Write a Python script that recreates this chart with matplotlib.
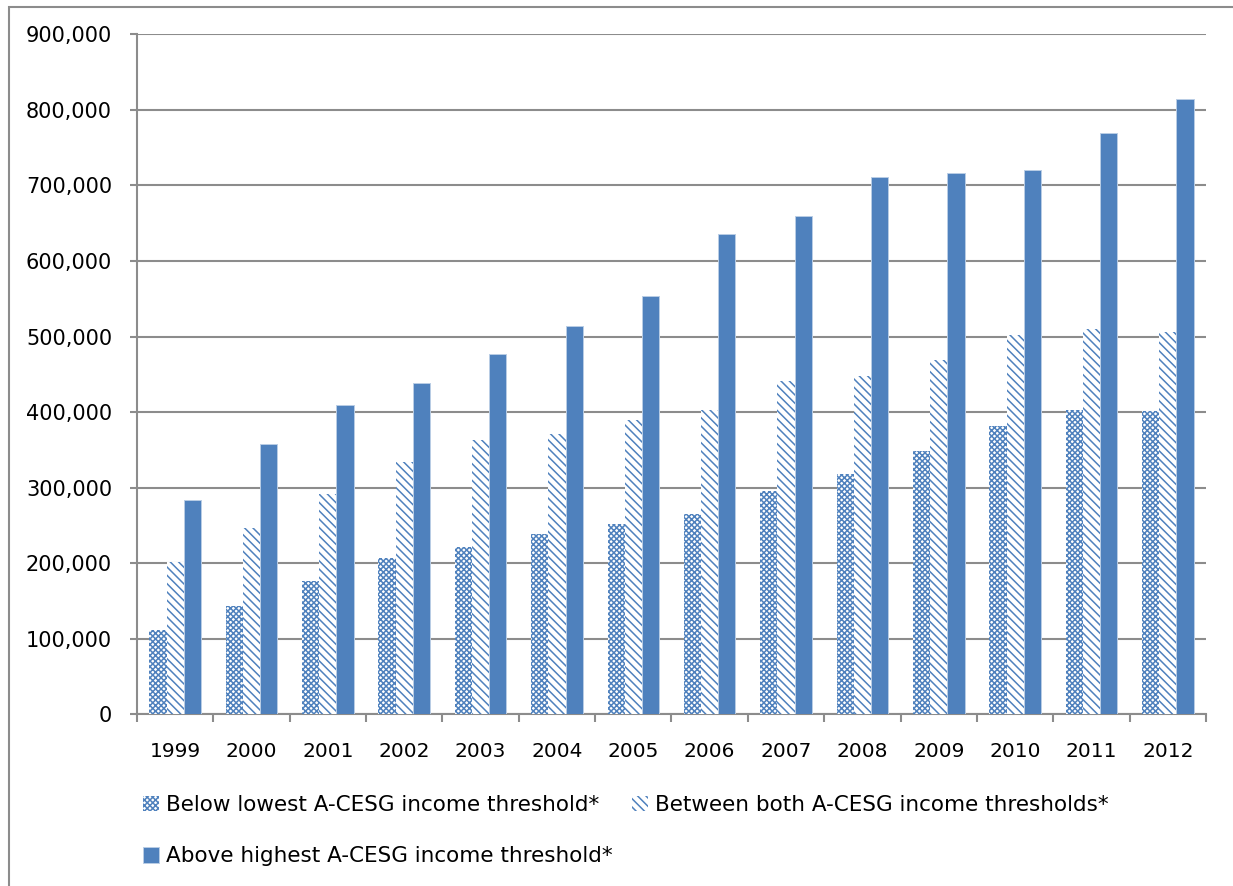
import matplotlib
matplotlib.use("Agg")
import matplotlib.pyplot as plt
import numpy as np
from matplotlib.ticker import FuncFormatter
from matplotlib.patches import Rectangle

# Households by income band (number), 1999-2012
years = ["1999", "2000", "2001", "2002", "2003", "2004", "2005",
         "2006", "2007", "2008", "2009", "2010", "2011", "2012"]
below_lowest = [112000, 144000, 176000, 207000, 221000, 238000, 252000,
                265000, 295000, 318000, 348000, 382000, 403000, 401000]
between_both = [202000, 247000, 292000, 334000, 363000, 371000, 390000,
                403000, 441000, 448000, 469000, 502000, 510000, 506000]
above_highest = [284000, 358000, 409000, 438000, 477000, 514000, 554000,
                 636000, 660000, 711000, 716000, 721000, 769000, 814000]
series_labels = ["Below lowest A-CESG income threshold*",
                 "Between both A-CESG income thresholds*",
                 "Above highest A-CESG income threshold*"]

BLUE = "#4F81BD"
GREY = "#8C8C8C"
W, H = 1233, 886

plt.rcParams["font.family"] = ["DejaVu Sans"]
plt.rcParams["hatch.linewidth"] = 1.1

fig = plt.figure(figsize=(W / 100, H / 100), dpi=100)
ax = fig.add_axes([137 / W, 1 - 714.3 / H, (1206 - 137) / W, (714.3 - 34.3) / H])

x = np.arange(len(years))
w = 0.225
b1 = ax.bar(x - w, below_lowest, w, facecolor="white", edgecolor=BLUE,
            hatch="xxxxxx", linewidth=0, label=series_labels[0], zorder=3)
b2 = ax.bar(x, between_both, w, facecolor="white", edgecolor=BLUE,
            hatch="\\\\\\\\", linewidth=0, label=series_labels[1], zorder=3)
b3 = ax.bar(x + w, above_highest, w, facecolor=BLUE, edgecolor="#B9CDE5",
            linewidth=0.7, label=series_labels[2], zorder=3)

ax.set_xlim(-0.5, len(years) - 0.5)
ax.set_ylim(0, 900000)
ax.set_yticks(np.arange(0, 900001, 100000))
ax.yaxis.set_major_formatter(FuncFormatter(lambda v, p: f"{int(v):,}"))
ax.grid(axis="y", color=GREY, linewidth=1.5, zorder=0)
ax.set_axisbelow(True)

for s in ("top", "right"):
    ax.spines[s].set_visible(False)
for s in ("left", "bottom"):
    ax.spines[s].set_color(GREY)
    ax.spines[s].set_linewidth(1.5)

ax.set_xticks(x)
ax.set_xticklabels(years)
ax.set_xticks(np.arange(-0.5, len(years)), minor=True)
ax.tick_params(axis="x", which="major", length=0, pad=20, labelsize=14.5)
ax.tick_params(axis="x", which="minor", length=6, width=1.5, color=GREY)
ax.tick_params(axis="y", length=5, width=1.5, color=GREY, pad=13, labelsize=15)

leg_kw = dict(frameon=False, fontsize=15.5, handlelength=0.75, handleheight=0.75,
              handletextpad=0.3, borderpad=0, borderaxespad=0, labelspacing=1.45,
              loc="upper left")
fig.legend(handles=[b1, b3], labels=[series_labels[0], series_labels[2]],
           bbox_to_anchor=(143 / W, 1 - 795 / H), **leg_kw)
fig.legend(handles=[b2], labels=[series_labels[1]],
           bbox_to_anchor=(632 / W, 1 - 795 / H), **leg_kw)

# outer chart-area frame (right and bottom edges lie off the canvas)
fig.add_artist(Rectangle((9 / W, -1.0), 2.0, 2.0 - 6.5 / H,
                         transform=fig.transFigure, fill=False,
                         edgecolor=GREY, linewidth=1.5))

fig.savefig("out.png", dpi=100)
